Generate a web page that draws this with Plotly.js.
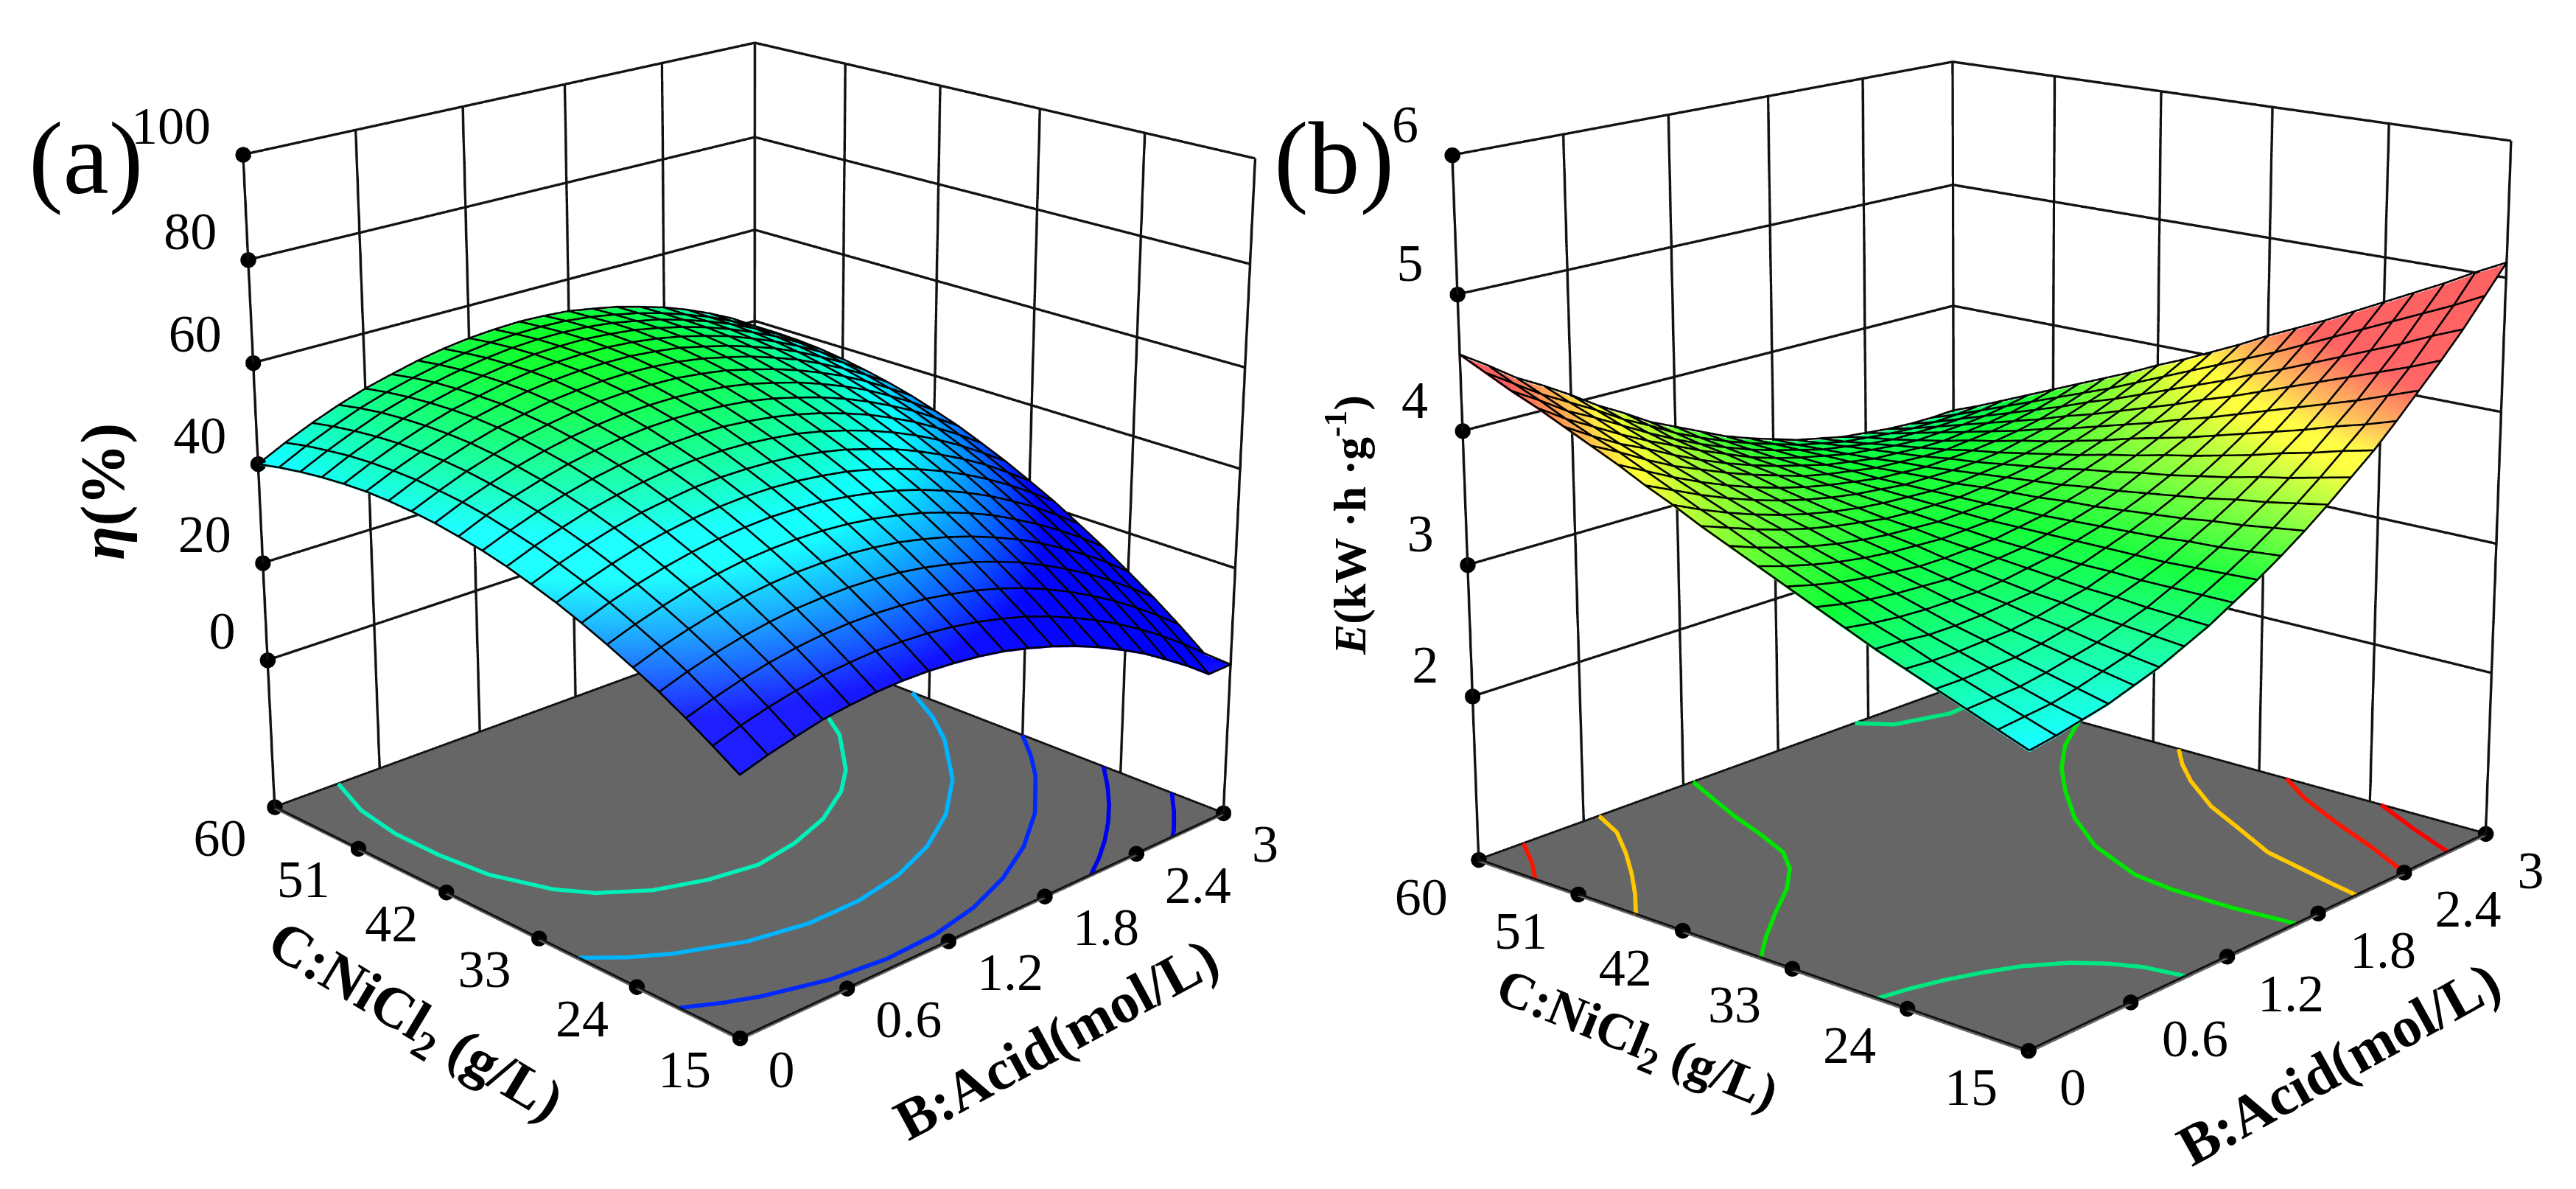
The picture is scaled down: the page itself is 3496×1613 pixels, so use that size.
<!DOCTYPE html>
<html><head><meta charset="utf-8">
<script src="https://cdn.plot.ly/plotly-3.0.1.min.js"></script>
<style>html,body{margin:0;padding:0;width:3496px;height:1613px;overflow:hidden;background:#fff}
#plot{position:absolute;left:0;transform-origin:0 0;}</style></head><body><div id="plot"></div>
<script>
// ---------- data ----------
const acidTicks=[0,0.6,1.2,1.8,2.4,3];
const nicl2Ticks=[15,24,33,42,51,60];
const etaTicks=[0,20,40,60,80,100];
const energyTicks=[2,3,4,5,6];
const acidGrid=[0,0.15,0.3,0.45,0.6,0.75,0.9,1.05,1.2,1.35,1.5,1.65,1.8,1.95,2.1,2.25,2.4,2.55,2.7,2.85,3];
const nicl2Grid=[15,17.25,19.5,21.75,24,26.25,28.5,30.75,33,35.25,37.5,39.75,42,44.25,46.5,48.75,51,53.25,55.5,57.75,60];
const etaZ=[
[18.0,19.6,20.9,22.1,22.8,23.3,23.5,23.4,23.0,22.4,21.5,20.2,18.7,16.9,14.8,12.4,9.8,6.7,3.5,-0.1,0.0],
[21.2,22.9,24.3,25.4,26.3,26.8,27.1,27.0,26.7,26.1,25.2,24.0,22.6,20.8,18.7,16.4,13.8,10.9,7.7,4.2,0.4],
[24.2,25.9,27.4,28.6,29.5,30.1,30.4,30.4,30.1,29.6,28.7,27.6,26.2,24.5,22.5,20.2,17.6,14.8,11.6,8.2,4.5],
[27.0,28.8,30.3,31.5,32.4,33.1,33.4,33.5,33.3,32.8,32.0,30.9,29.6,27.9,26.0,23.7,21.2,18.4,15.3,11.9,8.3],
[29.5,31.4,32.9,34.2,35.2,35.9,36.3,36.4,36.3,35.8,35.1,34.0,32.7,31.1,29.2,27.1,24.6,21.8,18.8,15.5,11.8],
[31.8,33.7,35.3,36.7,37.7,38.5,38.9,39.1,39.0,38.6,37.9,36.9,35.7,34.1,32.3,30.2,27.7,25.0,22.0,18.8,15.2],
[33.9,35.9,37.5,38.9,40.0,40.8,41.3,41.6,41.5,41.2,40.5,39.6,38.4,36.9,35.1,33.0,30.7,28.0,25.1,21.8,18.3],
[35.8,37.8,39.5,41.0,42.1,42.9,43.5,43.8,43.8,43.5,42.9,42.1,40.9,39.4,37.7,35.7,33.4,30.8,27.9,24.7,21.3],
[37.4,39.5,41.3,42.8,44.0,44.8,45.5,45.8,45.8,45.6,45.1,44.3,43.2,41.7,40.1,38.1,35.8,33.3,30.5,27.3,23.9],
[38.9,41.0,42.8,44.4,45.6,46.5,47.2,47.6,47.7,47.5,47.0,46.3,45.2,43.8,42.2,40.3,38.1,35.6,32.8,29.7,26.4],
[40.1,42.2,44.1,45.7,47.0,48.0,48.7,49.1,49.3,49.2,48.7,48.0,47.0,45.7,44.1,42.3,40.1,37.7,34.9,31.9,28.6],
[41.0,43.3,45.2,46.8,48.2,49.2,50.0,50.5,50.7,50.6,50.2,49.6,48.6,47.3,45.8,44.0,41.9,39.5,36.9,33.9,30.7],
[41.8,44.1,46.0,47.7,49.1,50.2,51.0,51.6,51.8,51.8,51.5,50.9,50.0,48.7,47.3,45.5,43.5,41.2,38.5,35.6,32.4],
[42.3,44.6,46.7,48.4,49.9,51.0,51.9,52.5,52.8,52.8,52.6,52.0,51.2,49.9,48.5,46.8,44.8,42.6,40.0,37.1,34.0],
[42.6,45.0,47.1,48.9,50.4,51.5,52.5,53.1,53.5,53.6,53.4,52.9,52.1,50.9,49.6,47.9,46.0,43.7,41.2,38.4,35.3],
[42.7,45.1,47.2,49.1,50.7,51.9,52.9,53.6,54.0,54.1,54.0,53.5,52.8,51.6,50.3,48.7,46.9,44.7,42.2,39.5,36.4],
[42.5,45.0,47.2,49.1,50.7,51.9,53.0,53.8,54.2,54.4,54.3,53.9,53.2,52.2,50.9,49.4,47.5,45.4,43.0,40.3,37.3],
[42.1,44.7,46.9,48.9,50.5,51.8,52.9,53.7,54.3,54.5,54.5,54.1,53.5,52.5,51.3,49.8,48.0,45.9,43.6,40.9,38.0],
[41.5,44.1,46.4,48.5,50.1,51.5,52.6,53.5,54.1,54.4,54.4,54.1,53.5,52.5,51.4,49.9,48.2,46.2,43.9,41.3,38.4],
[40.7,43.4,45.7,47.8,49.5,50.9,52.1,53.0,53.7,54.0,54.1,53.9,53.3,52.4,51.3,49.9,48.2,46.3,44.0,41.5,38.6],
[39.7,42.4,44.8,46.9,48.7,50.1,51.4,52.4,53.1,53.5,53.7,53.5,53.1,52.2,51.2,49.8,48.3,46.4,44.2,41.7,38.6]];
const energyZ=[
[2.79,2.82,2.86,2.90,2.96,3.02,3.10,3.18,3.28,3.38,3.49,3.61,3.74,3.88,4.02,4.18,4.35,4.52,4.70,4.90,5.10],
[2.87,2.89,2.91,2.95,3.00,3.05,3.12,3.19,3.28,3.37,3.47,3.58,3.70,3.83,3.97,4.11,4.27,4.43,4.61,4.79,4.99],
[2.95,2.96,2.97,3.00,3.04,3.08,3.14,3.20,3.28,3.36,3.45,3.55,3.66,3.78,3.91,4.05,4.19,4.35,4.51,4.69,4.87],
[3.03,3.03,3.04,3.05,3.08,3.12,3.16,3.22,3.28,3.35,3.44,3.53,3.63,3.74,3.86,3.98,4.12,4.27,4.42,4.59,4.76],
[3.11,3.10,3.10,3.11,3.12,3.15,3.19,3.23,3.29,3.35,3.42,3.50,3.59,3.69,3.80,3.92,4.05,4.19,4.33,4.49,4.65],
[3.19,3.18,3.16,3.16,3.17,3.19,3.21,3.25,3.29,3.35,3.41,3.48,3.56,3.65,3.75,3.86,3.98,4.11,4.24,4.39,4.54],
[3.28,3.25,3.23,3.22,3.22,3.22,3.24,3.27,3.30,3.35,3.40,3.46,3.53,3.61,3.70,3.80,3.91,4.03,4.15,4.29,4.43],
[3.37,3.33,3.30,3.28,3.27,3.26,3.27,3.29,3.31,3.35,3.39,3.44,3.50,3.58,3.66,3.74,3.84,3.95,4.07,4.19,4.33],
[3.46,3.41,3.37,3.34,3.32,3.30,3.30,3.31,3.32,3.35,3.38,3.43,3.48,3.54,3.61,3.69,3.78,3.88,3.98,4.10,4.23],
[3.55,3.49,3.44,3.40,3.37,3.35,3.34,3.33,3.34,3.35,3.38,3.41,3.45,3.51,3.57,3.64,3.71,3.80,3.90,4.01,4.12],
[3.64,3.57,3.51,3.46,3.42,3.39,3.37,3.36,3.35,3.36,3.37,3.40,3.43,3.47,3.52,3.58,3.65,3.73,3.82,3.92,4.02],
[3.73,3.66,3.59,3.53,3.48,3.44,3.41,3.38,3.37,3.37,3.37,3.39,3.41,3.44,3.48,3.53,3.59,3.66,3.74,3.83,3.92],
[3.83,3.74,3.66,3.59,3.53,3.48,3.44,3.41,3.39,3.38,3.37,3.37,3.39,3.41,3.44,3.48,3.53,3.59,3.66,3.74,3.83],
[3.92,3.83,3.74,3.66,3.59,3.53,3.48,3.44,3.41,3.39,3.37,3.37,3.37,3.38,3.40,3.44,3.48,3.53,3.59,3.65,3.73],
[4.02,3.92,3.82,3.73,3.65,3.58,3.52,3.47,3.43,3.40,3.37,3.36,3.35,3.36,3.37,3.39,3.42,3.46,3.51,3.57,3.64],
[4.11,4.01,3.90,3.80,3.72,3.64,3.57,3.51,3.45,3.41,3.38,3.35,3.34,3.33,3.33,3.35,3.37,3.40,3.44,3.49,3.55],
[4.20,4.08,3.97,3.88,3.78,3.69,3.61,3.54,3.48,3.43,3.38,3.35,3.32,3.31,3.30,3.30,3.32,3.34,3.37,3.41,3.46],
[4.29,4.16,4.05,3.94,3.84,3.75,3.66,3.58,3.50,3.44,3.39,3.35,3.31,3.29,3.27,3.26,3.27,3.28,3.30,3.33,3.37],
[4.37,4.25,4.12,4.02,3.91,3.80,3.70,3.61,3.53,3.46,3.40,3.35,3.30,3.27,3.24,3.22,3.22,3.22,3.23,3.25,3.28],
[4.46,4.33,4.20,4.09,3.98,3.86,3.76,3.65,3.56,3.48,3.41,3.35,3.29,3.25,3.21,3.19,3.17,3.16,3.16,3.17,3.19],
[4.55,4.42,4.28,4.17,4.05,3.92,3.81,3.69,3.60,3.51,3.42,3.35,3.29,3.23,3.19,3.15,3.13,3.11,3.10,3.10,3.11]];
// floor contour lines (acid, NiCl2)
const etaC40={b:[0.36,0.255,0.21,0.21,0.24,0.345,0.45,0.642,0.882,1.14,1.404,1.674,1.941,2.124,2.388,2.565,2.685,2.742,2.754],c:[60,55.5,51,46.5,42,37.5,35.25,33,31.65,30.98,31.65,33,35.25,37.5,42,46.5,51,55.5,60]};
const etaC30={b:[0,0.15,0.3,0.6,0.9,1.2,1.5,1.8,2.1,2.4,2.7,2.85,3],c:[29.27,27.19,25.67,23.64,22.74,22.79,23.6,25.26,27.78,31.34,36.29,39.5,43.67]};
const etaC20={b:[0,0.15,0.3,0.6,0.9,1.2,1.5,1.8,2.1,2.4,2.7,2.85,3],c:[20.22,18.9,17.87,16.51,15.98,16.17,17.04,18.59,20.81,23.82,27.78,30.2,33]};
const etaC10={b:[2.1,2.25,2.4,2.55,2.7,2.85,3],c:[15,16.26,17.7,19.34,21.17,23.24,25.53]};
const etaC0={b:[2.646,2.7,2.85,3],c:[15,15.56,17.41,19.45]};
const enL1={b:[0,0.15,0.3,0.45,0.6,0.75,0.84,0.9,0.936],c:[26.25,25.8,25.13,24.23,23.1,21.3,19.5,17.7,15]};
const enL2={b:[2.31,2.415,2.7,3],c:[60,57.75,56.4,56.85]};
const enL3={b:[0,0.165,0.375,0.6,0.774,0.891,0.99,1.065,1.155,1.26],c:[35.52,37.5,39.75,42,44.25,46.5,50.1,53.25,56.4,60]};
const enL4={b:[1.65,1.62,1.62,1.65,1.8,2.007,2.25,2.46,2.7,3],c:[15,19.5,24,27.29,32.33,36.6,40.43,43.35,46.05,48.57]};
const enL5={b:[0,0.15,0.3,0.45,0.6,0.69],c:[45.96,48.35,50.96,53.79,56.94,60]};
const enL6={b:[2.061,2.1,2.217,2.37,2.502,2.7,2.85,3],c:[15,17.25,23.46,27.6,31.25,35.25,37.73,39.8]};
const enL7={b:[0,0.12,0.252],c:[54.83,57.08,60]};
const enL8={b:[2.4,2.55,2.7,2.85,3],c:[15,19.05,23.55,27.6,30.75]};
const enL9={b:[2.715,2.85,3],c:[15,19.05,23.1]};

// ---------- drawing ----------
const S=1.3, H=3390, W=3496/S, TOP=-1518.5;
const el=document.getElementById('plot');
el.style.top=TOP+'px'; el.style.transform='scale('+S+')';
const SERIF='"Liberation Serif","Times New Roman",serif';
const BK='#111';
function line(scene,x,y,z,color,width){return {type:'scatter3d',mode:'lines',scene,x,y,z,line:{color,width},hoverinfo:'skip',showlegend:false};}
function panel(scene,zt,zMat,zFloor,colorscale,cmin,cmax,lift,contours){
  const xM=3,xL=0,yM=60,yL=15,zTop=zt[zt.length-1];
  const out=[];
  out.push({type:'surface',scene,x:acidGrid,y:nicl2Grid,z:zMat,colorscale,cmin,cmax,showscale:false,hoverinfo:'skip',
    lighting:{ambient:0.9,diffuse:0.2,specular:0.1,roughness:0.5,fresnel:0},lightposition:{x:-10000,y:-10000,z:6000},
    contours:{x:{highlight:false},y:{highlight:false},z:{highlight:false}}});
  let gx=[],gy=[],gz=[];
  const seg=(a,b)=>{gx.push(a[0],b[0],null);gy.push(a[1],b[1],null);gz.push(a[2],b[2],null);};
  acidTicks.forEach(t=>seg([t,yM,zFloor],[t,yM,zTop]));
  nicl2Ticks.forEach(t=>seg([xM,t,zFloor],[xM,t,zTop]));
  zt.forEach(t=>{seg([xL,yM,t],[xM,yM,t]);seg([xM,yM,t],[xM,yL,t]);});
  out.push(line(scene,gx,gy,gz,BK,5.2));
  out.push(line(scene,[xL,xM,xM,xL,xL],[yL,yL,yM,yM,yL],[zFloor,zFloor,zFloor,zFloor,zFloor].map(v=>v+lift*0.2),BK,4.4));
  let mx=[],my=[],mz=[];
  nicl2Grid.forEach((c,j)=>{acidGrid.forEach((b,i)=>{mx.push(b);my.push(c);mz.push(zMat[j][i]+lift);});mx.push(null);my.push(null);mz.push(null);});
  acidGrid.forEach((b,i)=>{nicl2Grid.forEach((c,j)=>{mx.push(b);my.push(c);mz.push(zMat[j][i]+lift);});mx.push(null);my.push(null);mz.push(null);});
  out.push(line(scene,mx,my,mz,'#000',4));
  contours.forEach(k=>out.push(line(scene,k.d.b,k.d.c,k.d.b.map(()=>zFloor+lift*0.1),k.col,8.7)));
  const dx=[],dy=[],dz=[];
  acidTicks.forEach(t=>{dx.push(t);dy.push(yL);dz.push(zFloor);});
  nicl2Ticks.forEach(t=>{dx.push(xL);dy.push(t);dz.push(zFloor);});
  zt.forEach(t=>{dx.push(xL);dy.push(yM);dz.push(t);});
  out.push({type:'scatter3d',mode:'markers',scene,x:dx,y:dy,z:dz,marker:{color:'#000',size:9.6,line:{width:0}},hoverinfo:'skip',showlegend:false});
  return out;
}
const csEta=[[0,'#0000ff'],[0.21,'#00ffff'],[0.42,'#00ff00'],[0.67,'#ffff00'],[1,'#ff0000']];
const csEn=[[0,'#0000ff'],[0.217,'#00ffff'],[0.417,'#00ff28'],[0.62,'#ffff32'],[0.683,'#ffaa50'],[0.757,'#ff5a5a'],[1,'#ff5a5a']];
const data=[].concat(
 panel('scene',etaTicks,etaZ,-31,csEta,24,100,0.25,[
  {d:etaC40,col:'#00f0b8'},{d:etaC30,col:'#00b4ff'},{d:etaC20,col:'#0028ff'},{d:etaC10,col:'#0000f0'},{d:etaC0,col:'#0000f0'}]),
 panel('scene2',energyTicks,energyZ,0.73,csEn,2.1,5.1,0.012,[
  {d:enL1,col:'#00e680'},{d:enL2,col:'#00e680'},{d:enL3,col:'#00e600'},{d:enL4,col:'#00e600'},
  {d:enL5,col:'#ffc800'},{d:enL6,col:'#ffc800'},{d:enL7,col:'#ff1400'},{d:enL8,col:'#ff1400'},{d:enL9,col:'#ff0000'}]));
const ax=(range,extra)=>Object.assign({range,autorange:false,showgrid:false,zeroline:false,showline:false,showticklabels:false,ticks:'',showspikes:false,showbackground:false,title:{text:''},tickvals:[]},extra||{});
const tf={family:SERIF,size:72/S,color:'#000'};
function tickAnn(zt,zF,sh){
  const a=[];
  const mk=(x,y,z,t,anc,s)=>({x,y,z,text:String(t),showarrow:false,xanchor:anc,yanchor:'middle',xshift:s[0]/S,yshift:s[1]/S,font:tf});
  zt.forEach(t=>a.push(mk(0,60,t,t,'right',sh.z)));
  nicl2Ticks.forEach(t=>a.push(mk(0,t,zF,t,'center',sh.c)));
  acidTicks.forEach(t=>a.push(mk(t,15,zF,t,'left',sh.b)));
  return a;
}
const pg=(x,y)=>({xref:'paper',yref:'paper',x:x/3496,y:1-(y-TOP)/(H*S),showarrow:false,xanchor:'center',yanchor:'middle'});
function txt(x,y,text,size,angle){return Object.assign(pg(x,y),{text,textangle:angle||0,font:{family:SERIF,size:size/S,color:'#000'}});}
const layout={width:W,height:H,margin:{l:0,r:0,t:0,b:0,pad:0},paper_bgcolor:'#fff',showlegend:false,hovermode:false,
 scene:{domain:{x:[0.0845,0.4965],y:[0.0379,0.9697]},aspectmode:'manual',aspectratio:{x:1,y:1,z:1.0},dragmode:false,hovermode:false,
  camera:{eye:{x:-3.43,y:-3.535,z:1.784},center:{x:0,y:0,z:0},up:{x:0,y:0,z:1}},
  xaxis:ax([-0.01,3.01]),yaxis:ax([14.85,60.15]),zaxis:ax([-31.2,100.4],{showbackground:true,backgroundcolor:'#666666'}),
  annotations:tickAnn(etaTicks,-31,{z:[-41,38],c:[-75,-43],b:[36,-43]})},
 scene2:{domain:{x:[0.5424,1],y:[0,1]},aspectmode:'manual',aspectratio:{x:1,y:1,z:0.99},dragmode:false,hovermode:false,
  camera:{eye:{x:-3.874,y:-3.349,z:1.444},center:{x:0,y:0,z:0},up:{x:0,y:0,z:1}},
  xaxis:ax([-0.01,3.01]),yaxis:ax([14.85,60.15]),zaxis:ax([0.72,6.02],{showbackground:true,backgroundcolor:'#666666'}),
  annotations:tickAnn(energyTicks,0.73,{z:[-43,42],c:[-78,-50],b:[40,-50]})},
 annotations:[
  txt(117,215,'(a)',140),txt(1811,215,'(b)',140),
  txt(140,666,'<b><i>η</i>(%)</b>',84,-90),
  txt(562,1389,'<b>C:NiCl<sub>2</sub> (g/L)</b>',78,31),
  txt(1434,1409,'<b>B:Acid(mol/L)</b>',78,-28.5),
  txt(1828,712,'<b><i>E</i>(kW ·h ·g<sup>-1</sup>)</b>',62,-90),
  txt(2221,1414,'<b>C:NiCl<sub>2</sub> (g/L)</b>',70,22),
  txt(3174,1443,'<b>B:Acid(mol/L)</b>',78,-29)
 ]};
Plotly.newPlot('plot',data,layout,{displayModeBar:false,responsive:false});
</script></body></html>
